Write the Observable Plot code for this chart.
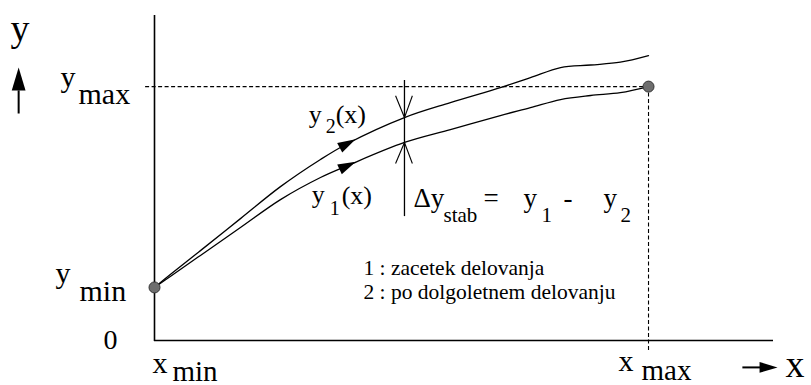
<!DOCTYPE html>
<html>
<head>
<meta charset="utf-8">
<script src="https://cdn.jsdelivr.net/npm/d3@7"></script>
<script src="https://cdn.jsdelivr.net/npm/@observablehq/plot@0.6"></script>
<style>
  html, body { margin: 0; padding: 0; background: #fff; }
  #chart svg { display: block; }
  #chart svg text { font-family: "Liberation Serif", "Times New Roman", serif; }
</style>
</head>
<body>
<div id="chart"></div>
<script>
// Characteristic y(x) at the start of operation (y1) and after long-term operation (y2)
const curveX   = [0, 3.2, 9.3, 17.4, 25.5, 33.6, 39.1, 50.6, 59.9, 70.0, 76.1, 82.2, 88.3, 94.3, 100];
const y1Values = [20.9, 25.2, 33.5, 44.5, 55.5, 64.2, 68.9, 78.0, 83.1, 88.6, 91.7, 94.9, 96.5, 97.6, 100];
const y2Values = [20.9, 26.0, 35.4, 48.0, 60.6, 71.3, 77.6, 87.8, 93.7, 99.6, 103.5, 107.5, 108.5, 109.6, 112.2];

// Operating range
const xMin = 0, xMax = 100;
const yMin = 20.9, yMax = 100;
const rangeX = [xMin, xMax];
const rangeY = [yMin, yMax];

// Where the drift Δy_stab is measured, and where the direction arrows sit on the curves
const xStab = 50.6;
const stabSpan = [48.8, 102.4];
const arrowIndex = 6;

const legendLines = ["1 : zacetek delovanja", "2 : po dolgoletnem delovanju"];

// Axis extents
const xEnd = 125.3, yEnd = 128;

const serif = "Liberation Serif";

const y1At = d3.scaleLinear().domain(curveX).range(y1Values);
const y2At = d3.scaleLinear().domain(curveX).range(y2Values);
const curveRows = curveX.map((x, i) => ({x, y1: y1Values[i], y2: y2Values[i]}));

// Filled arrow head symbol, pointing in the given direction (degrees clockwise from up)
function arrowHead(angle) {
  const a = angle * Math.PI / 180, c = Math.cos(a), s = Math.sin(a);
  const pt = (x, y) => [x * c - y * s, x * s + y * c];
  return {
    draw(ctx, size) {
      const r = Math.sqrt(size / Math.PI);
      const p = [pt(0, -r), pt(0.6 * r, r), pt(-0.6 * r, r)];
      ctx.moveTo(...p[0]); ctx.lineTo(...p[1]); ctx.lineTo(...p[2]); ctx.closePath();
    }
  };
}

// One piece of text anchored on a data point, shifted in pixels
function label(str, x, y, dx, dy, size, extra = {}) {
  return Plot.text([str], {
    x: () => x, y: () => y, text: d => d,
    dx, dy, fontSize: size, fontFamily: serif,
    textAnchor: "start", lineAnchor: "bottom", fill: "#000", ...extra
  });
}

const vArms = [
  // upper mark: arms meet on y2
  {x1: xStab - 1.8, y1: y2At(xStab) + 8.6, x2: xStab, y2: y2At(xStab)},
  {x1: xStab + 1.6, y1: y2At(xStab) + 8.6, x2: xStab, y2: y2At(xStab)},
  // lower mark: arms meet on y1
  {x1: xStab - 1.8, y1: y1At(xStab) - 8.3, x2: xStab, y2: y1At(xStab)},
  {x1: xStab + 1.6, y1: y1At(xStab) - 8.3, x2: xStab, y2: y1At(xStab)}
];

const chart = Plot.plot({
  width: 811,
  height: 385,
  marginLeft: 154,
  marginRight: 38,
  marginTop: 15,
  marginBottom: 45,
  x: {domain: [0, xEnd], axis: null},
  y: {domain: [0, yEnd], axis: null},
  style: {fontFamily: serif, background: "#fff", overflow: "visible"},
  marks: [
    // axes
    Plot.ruleX([0], {y1: -0.4, y2: yEnd, stroke: "#000", strokeWidth: 1.6}),
    Plot.ruleY([0], {x1: 0, x2: xEnd, stroke: "#000", strokeWidth: 1.6}),

    // guides to the end point
    Plot.ruleY([yMax], {x1: -1.8, x2: xMax, stroke: "#000", strokeWidth: 1.1, strokeDasharray: "4,2.5"}),
    Plot.ruleX([xMax], {y1: -3.9, y2: yMax, stroke: "#000", strokeWidth: 1.1, strokeDasharray: "4,2.5"}),

    // the two characteristics
    Plot.line(curveRows, {x: "x", y: "y2", curve: "catmull-rom", stroke: "#000", strokeWidth: 1.3}),
    Plot.line(curveRows, {x: "x", y: "y1", curve: "catmull-rom", stroke: "#000", strokeWidth: 1.3}),

    // direction arrows on the curves
    Plot.dot([curveRows[arrowIndex]], {x: "x", y: "y2", r: 9, symbol: arrowHead(62), fill: "#000", stroke: "none"}),
    Plot.dot([curveRows[arrowIndex]], {x: "x", y: "y1", r: 9, symbol: arrowHead(65), fill: "#000", stroke: "none"}),

    // Δy_stab measurement
    Plot.ruleX([xStab], {y1: stabSpan[0], y2: stabSpan[1], stroke: "#000", strokeWidth: 1.3}),
    Plot.link(vArms, {x1: "x1", y1: "y1", x2: "x2", y2: "y2", stroke: "#000", strokeWidth: 1.1}),

    // start and end points
    Plot.dot(rangeX.map((x, i) => ({x, y: rangeY[i]})), {x: "x", y: "y", r: 5.5, fill: "#6e6e6e", stroke: "#333", strokeWidth: 1}),

    // axis direction arrows
    Plot.link([{x1: -27.5, y1: 89.4, x2: -27.5, y2: 98.5}], {x1: "x1", y1: "y1", x2: "x2", y2: "y2", stroke: "#000", strokeWidth: 2}),
    Plot.dot([{x: -27.5, y: 103}], {x: "x", y: "y", r: 11.5, symbol: arrowHead(0), fill: "#000", stroke: "none"}),
    Plot.link([{x1: 119.0, y1: -10.6, x2: 122.6, y2: -10.6}], {x1: "x1", y1: "y1", x2: "x2", y2: "y2", stroke: "#000", strokeWidth: 2}),
    Plot.dot([{x: 124.3, y: -10.6}], {x: "x", y: "y", r: 9, symbol: arrowHead(90), fill: "#000", stroke: "none"}),

    // axis names
    label("y", 0, yEnd, -144, 25, 38),
    label("x", xMax, 0, 137, 36, 38),

    // range labels
    label("y", 0, yMax, -94, 0, 30),
    label("max", 0, yMax, -76, 17, 30),
    label("y", 0, yMin, -99, -4, 30),
    label("min", 0, yMin, -75, 14, 30),
    label("0", 0, 0, -51, 8, 28),
    label("x", xMin, 0, -2, 32, 30),
    label("min", xMin, 0, 18, 40, 29),
    label("x", xMax, 0, -30, 30, 30),
    label("max", xMax, 0, -7, 39, 29),

    // curve names
    label("y", curveX[arrowIndex], y2Values[arrowIndex], -39, -20, 26),
    label("2", curveX[arrowIndex], y2Values[arrowIndex], -22, -10, 20),
    label("(x)", curveX[arrowIndex], y2Values[arrowIndex], -12, -20, 26),
    label("y", curveX[arrowIndex], y1Values[arrowIndex], -36, 37, 26),
    label("1", curveX[arrowIndex], y1Values[arrowIndex], -18, 49, 20),
    label("(x)", curveX[arrowIndex], y1Values[arrowIndex], -6, 38, 26),

    // Δy_stab = y1 - y2
    label("Δy", xStab, stabSpan[0], 9, -10, 27),
    label("stab", xStab, stabSpan[0], 39, 5, 21),
    label("=", xStab, stabSpan[0], 79, -10, 27),
    label("y", xStab, stabSpan[0], 119, -10, 27),
    label("1", xStab, stabSpan[0], 137, 5, 21),
    label("-", xStab, stabSpan[0], 159, -10, 27),
    label("y", xStab, stabSpan[0], 199, -10, 27),
    label("2", xStab, stabSpan[0], 216, 5, 21),

    // key
    label(legendLines[0], xStab, 0, -41, -66, 21.5),
    label(legendLines[1], xStab, 0, -41, -42, 21.5)
  ]
});

document.getElementById("chart").appendChild(chart);
</script>
</body>
</html>
